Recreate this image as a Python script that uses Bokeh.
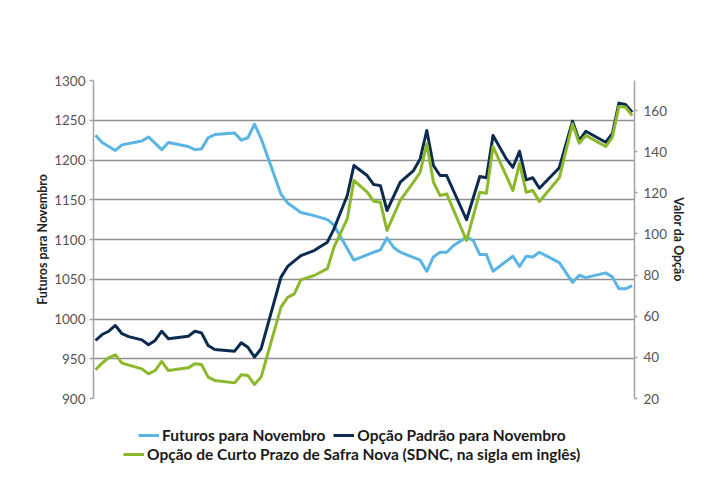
from bokeh.plotting import figure
from bokeh.layouts import column
from bokeh.models import Range1d, LinearAxis, FixedTicker, Legend, LegendItem
from bokeh.embed import file_html
from bokeh.resources import INLINE

# ---- data (trading-day index) ----
fut_day = [0, 1, 3, 4, 7, 8, 10, 11, 14, 15, 16, 17, 18, 21, 22, 23, 24, 25,
           28, 29, 31, 33, 35, 36, 39, 42, 43, 44, 45, 46, 49, 50, 51, 52, 53, 54,
           56, 57, 58, 59, 60, 63, 64, 65, 66, 67, 70, 72, 73, 74, 77, 78, 79, 80, 81]
fut_val = [1231, 1222, 1212, 1219, 1224, 1229, 1213, 1222, 1217, 1213, 1214, 1228, 1232,
           1234, 1225, 1228, 1245, 1227, 1157, 1146, 1134, 1130, 1125, 1118, 1074, 1084,
           1087, 1102, 1090, 1084, 1074, 1060, 1078, 1084, 1084, 1092, 1103, 1099, 1081,
           1081, 1060, 1079, 1066, 1079, 1078, 1084, 1071, 1046, 1055, 1052, 1058, 1053,
           1038, 1038, 1042]

std_day = [0, 1, 2, 3, 4, 5, 7, 8, 9, 10, 11, 14, 15, 16, 17, 18, 21, 22, 23, 24, 25,
           28, 29, 31, 33, 35, 36, 38, 39, 41, 42, 43, 44, 46, 48, 49, 50, 51, 52, 53,
           56, 58, 59, 60, 62, 63, 64, 65, 66, 67, 70, 72, 73, 74, 77, 78, 79, 80, 81]
std_val = [48.2, 51.1, 52.7, 55.5, 51.5, 50.1, 48.5, 46.1, 48.2, 52.7, 49.0, 50.3, 52.7,
           51.9, 45.8, 43.8, 43.0, 47.1, 44.9, 40.1, 44.2, 79.0, 84.2, 89.5, 91.9, 96.0,
           102.5, 118.7, 133.3, 128.4, 124.0, 123.5, 111.4, 125.2, 130.8, 136.5, 150.3,
           133.3, 128.4, 128.4, 106.9, 127.9, 127.3, 147.9, 136.5, 132.4, 140.2, 126.3,
           127.3, 122.2, 132.2, 154.8, 145.4, 149.9, 144.6, 148.7, 163.6, 162.9, 159.2]

sdnc_day = [0, 1, 2, 3, 4, 7, 8, 9, 10, 11, 14, 15, 16, 17, 18, 21, 22, 23, 24, 25,
            28, 29, 30, 31, 33, 35, 36, 38, 39, 41, 42, 43, 44, 46, 48, 49, 50, 51, 52, 53,
            56, 58, 59, 60, 63, 64, 65, 66, 67, 70, 72, 73, 74, 77, 78, 79, 80, 81]
sdnc_val = [34.0, 37.2, 39.8, 41.2, 37.2, 34.4, 32.0, 33.6, 38.0, 33.6, 34.9, 36.9, 36.5,
            30.4, 28.8, 27.6, 31.5, 31.2, 26.8, 30.4, 64.4, 69.2, 70.9, 77.7, 79.8, 83.1,
            93.6, 107.4, 126.0, 120.3, 115.9, 115.4, 101.7, 116.3, 125.2, 130.0, 143.8,
            125.2, 118.7, 119.5, 96.8, 120.3, 119.8, 142.5, 121.1, 134.4, 120.3, 121.1,
            115.8, 127.3, 153.5, 144.1, 147.9, 142.5, 147.0, 162.0, 161.6, 157.6]

left_ticks = [900, 950, 1000, 1050, 1100, 1150, 1200, 1250, 1300]
right_ticks = [20, 40, 60, 80, 100, 120, 140, 160]

labels = ["Futuros para Novembro", "Opção Padrão para Novembro",
          "Opção de Curto Prazo de Safra Nova (SDNC, na sigla em inglês)"]
left_title = "Futuros para Novembro"
right_title = "Valor da Opção"

# ---- styles ----
C_FUT = "#5ab4e4"
C_STD = "#0c2b50"
C_SDNC = "#8cb92c"
GRID = "#8f8f8f"
AX = "#a3a3a3"
TICK_TXT = "#555555"
FONT = "Lato"
W = 712
FRAME_L = 93

p = figure(width=W, height=412, output_backend="svg", toolbar_location=None,
           x_range=Range1d(-0.3, 81.35), y_range=Range1d(900, 1300),
           x_axis_location=None,
           min_border_left=FRAME_L, min_border_right=W - 634, min_border_top=80, min_border_bottom=14)
p.outline_line_color = None
p.xgrid.grid_line_color = None

p.extra_y_ranges = {"opt": Range1d(20, 174.6)}

ya = p.yaxis[0]
ya.ticker = FixedTicker(ticks=left_ticks)
ya.axis_label = left_title

ra = LinearAxis(y_range_name="opt", ticker=FixedTicker(ticks=right_ticks), axis_label=right_title)
p.add_layout(ra, "right")

for ax, tout, std in [(ya, 4, 4), (ra, 3, 6)]:
    ax.axis_line_color = AX
    ax.axis_line_width = 1.5
    ax.major_tick_line_color = AX
    ax.major_tick_line_width = 1.5
    ax.major_tick_out = tout
    ax.major_tick_in = 0
    ax.minor_tick_line_color = None
    ax.major_label_text_font = FONT
    ax.major_label_text_font_size = "13.5px"
    ax.major_label_text_color = TICK_TXT
    ax.major_label_standoff = std
    ax.axis_label_text_font = FONT
    ax.axis_label_text_font_size = "12.4px"
    ax.axis_label_text_font_style = "bold"
    ax.axis_label_text_color = "#222222"
    ax.axis_label_standoff = 1

p.ygrid.ticker = FixedTicker(ticks=left_ticks)
p.ygrid.grid_line_color = GRID
p.ygrid.grid_line_width = 1.6

r1 = p.line(fut_day, fut_val, line_color=C_FUT, line_width=3, line_join="round")
r2 = p.line(std_day, std_val, line_color=C_STD, line_width=3, line_join="round", y_range_name="opt")
r3 = p.line(sdnc_day, sdnc_val, line_color=C_SDNC, line_width=3, line_join="round", y_range_name="opt")

# ---- legend strip below the chart (proxies with no visible data) ----
NAN = float("nan")
lf = figure(width=W, height=80, output_backend="svg", toolbar_location=None,
            x_range=Range1d(0, 1), y_range=Range1d(0, 1),
            x_axis_location=None, y_axis_location=None,
            min_border_left=FRAME_L, min_border_right=W - 634, min_border_top=0, min_border_bottom=0)
lf.outline_line_color = None
lf.xgrid.visible = False
lf.ygrid.visible = False
k1 = lf.line([NAN], [NAN], line_color=C_FUT, line_width=3)
k2 = lf.line([NAN], [NAN], line_color=C_STD, line_width=3)
k3 = lf.line([NAN], [NAN], line_color=C_SDNC, line_width=3)

def make_legend(items, loc):
    lg = Legend(items=items, orientation="horizontal", location=loc)
    lg.background_fill_alpha = 0
    lg.border_line_color = None
    lg.padding = 0
    lg.margin = 0
    lg.spacing = 8
    lg.glyph_width = 21
    lg.glyph_height = 18
    lg.label_height = 18
    lg.label_standoff = 3
    lg.label_text_font = FONT
    lg.label_text_font_size = "15.5px"
    lg.label_text_font_style = "bold"
    lg.label_text_color = "#1a1a1a"
    return lg

leg1 = make_legend([LegendItem(label=labels[0], renderers=[k1]),
                    LegendItem(label=labels[1], renderers=[k2])], (138 - FRAME_L, 48))
leg2 = make_legend([LegendItem(label=labels[2], renderers=[k3])], (123 - FRAME_L, 29))
lf.add_layout(leg1, "center")
lf.add_layout(leg2, "center")

open("out.html", "w").write(file_html(column(p, lf, spacing=0), INLINE))
